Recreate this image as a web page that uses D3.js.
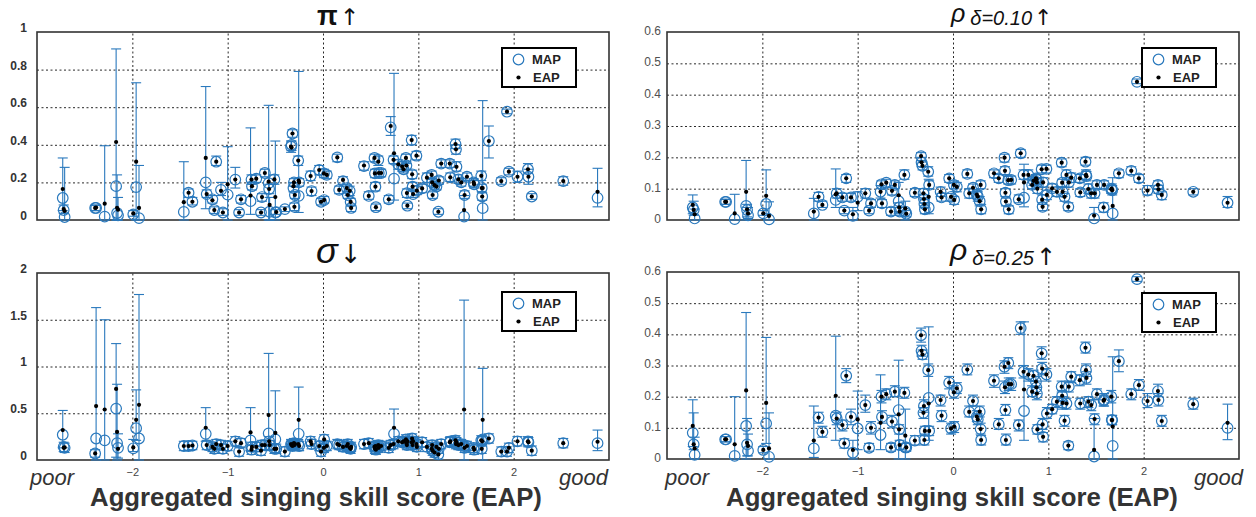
<!DOCTYPE html>
<html><head><meta charset="utf-8">
<script src="https://cdn.jsdelivr.net/npm/d3@7"></script>
<style>body{margin:0;background:#fff;} svg{display:block;font-family:"Liberation Sans",Arial,sans-serif;}</style>
</head><body><svg id="c" width="1256" height="517"></svg>
<script>
// Aggregated singing skill score (EAP) per singer
const skill = [-2.73,-2.72,-2.71,-2.39,-2.38,-2.29,-2.17,-2.16,-2.15,-1.99,
-1.96,-1.93,-1.46,-1.41,-1.37,-1.23,-1.22,-1.16,-1.14,-1.12,
-1.07,-1.05,-1.0,-0.92,-0.88,-0.86,-0.76,-0.75,-0.745,-0.70,
-0.65,-0.64,-0.61,-0.57,-0.565,-0.56,-0.51,-0.50,-0.49,-0.40,
-0.335,-0.33,-0.32,-0.31,-0.305,-0.30,-0.295,-0.26,-0.255,-0.25,
-0.13,-0.12,-0.04,-0.02,0.01,0.012,0.04,0.15,0.17,0.21,
0.25,0.26,0.28,0.29,0.295,0.43,0.48,0.54,0.545,0.55,
0.555,0.58,0.585,0.61,0.69,0.71,0.74,0.745,0.79,0.83,
0.845,0.87,0.875,0.88,0.885,0.93,0.935,0.94,0.945,0.98,
0.985,1.04,1.09,1.14,1.145,1.15,1.17,1.19,1.21,1.215,
1.24,1.33,1.335,1.39,1.395,1.40,1.42,1.45,1.48,1.485,
1.51,1.58,1.585,1.66,1.665,1.67,1.675,1.74,1.87,1.93,
1.95,2.04,2.15,2.155,2.19,2.52,2.88];

// rows: [MAP, EAP, interval low, interval high]
const piRows = [
[.117,.165,.05,.33],[.053,.058,.035,.08],[.016,.048,0,.28],[.064,.064,.05,.078],[.064,.066,.05,.08],[.018,.087,0,.395],[.18,.415,0,.91],[.037,.065,0,.24],[.025,.055,0,.12],[.03,.035,.02,.05],
[.175,.31,0,.73],[.01,.064,0,.29],[.043,.095,0,.31],[.145,.145,.12,.165],[.097,.097,.08,.12],[.2,.33,.06,.71],[.138,.138,.12,.16],[.11,.105,.09,.13],[.053,.053,.035,.07],[.31,.31,.29,.34],
[.16,.155,.13,.2],[.04,.04,.025,.06],[.135,.19,0,.39],[.215,.215,.17,.28],[.04,.04,.025,.055],[.11,.11,.09,.13],[.1,.13,.03,.49],[.215,.215,.19,.24],[.18,.18,.16,.2],[.22,.22,.2,.24],
[.04,.04,.025,.055],[.122,.122,.1,.14],[.25,.25,.23,.27],[.196,.204,0,.61],[.165,.165,.14,.19],[.044,.08,0,.12],[.216,.216,.19,.24],[.04,.122,0,.42],[.042,.042,.03,.055],[.058,.058,.045,.07],
[.39,.39,.36,.42],[.4,.385,.37,.42],[.46,.46,.44,.48],[.17,.18,.15,.2],[.2,.2,.18,.22],[.07,.07,.05,.09],[.133,.133,.115,.15],[.316,.316,.29,.34],[.128,.21,.04,.79],[.2,.2,.18,.22],
[.234,.234,.21,.26],[.154,.154,.13,.175],[.266,.266,.24,.29],[.097,.097,.08,.115],[.248,.248,.225,.27],[.106,.106,.09,.125],[.24,.24,.22,.26],[.333,.333,.31,.35],[.16,.16,.14,.18],[.207,.213,.19,.23],
[.17,.17,.15,.19],[.133,.133,.115,.15],[.155,.155,.13,.18],[.096,.096,.075,.115],[.064,.064,.045,.08],[.287,.29,.265,.31],[.128,.128,.11,.15],[.33,.33,.31,.35],[.248,.248,.225,.27],[.177,.177,.155,.2],
[.068,.068,.05,.085],[.32,.31,.29,.34],[.25,.25,.23,.27],[.25,.25,.23,.27],[.11,.11,.09,.13],[.493,.5,.45,.55],[.32,.32,.3,.34],[.22,.355,.106,.78],[.296,.296,.27,.32],[.284,.284,.26,.31],
[.27,.27,.25,.29],[.33,.33,.3,.35],[.29,.29,.27,.31],[.143,.143,.12,.165],[.076,.076,.06,.09],[.425,.425,.4,.45],[.243,.243,.22,.265],[.177,.177,.155,.2],[.138,.138,.12,.16],[.342,.342,.32,.365],
[.156,.156,.135,.18],[.168,.168,.145,.19],[.225,.225,.2,.25],[.24,.24,.22,.26],[.2,.2,.18,.22],[.133,.133,.115,.15],[.185,.185,.165,.205],[.178,.178,.16,.2],[.044,.044,.03,.06],[.21,.21,.19,.23],
[.3,.3,.28,.32],[.3,.3,.28,.32],[.227,.227,.205,.25],[.404,.404,.38,.43],[.376,.376,.35,.4],[.283,.283,.26,.31],[.216,.216,.195,.24],[.2,.2,.18,.22],[.018,.053,0,.13],[.133,.133,.115,.155],
[.23,.23,.21,.25],[.2,.2,.18,.22],[.19,.19,.17,.21],[.235,.235,.21,.26],[.17,.17,.15,.19],[.125,.125,.105,.145],[.063,.17,0,.635],[.42,.42,.33,.5],[.207,.207,.19,.225],[.576,.576,.565,.59],
[.257,.257,.24,.275],[.23,.23,.2,.26],[.27,.27,.25,.3],[.23,.23,.19,.27],[.125,.125,.11,.14],[.207,.207,.185,.23],[.118,.15,.07,.275]];

const sigmaRows = [
[.27,.32,.13,.53],[.14,.13,.09,.19],[.13,.135,.08,.18],[.07,.07,.03,.11],[.23,.577,0,1.63],[.21,.54,0,1.5],[.55,.76,.03,1.245],[.18,.3,0,.81],[.13,.12,.02,.28],[.125,.135,.09,.22],
[.34,.43,.21,.75],[.23,.59,0,1.77],[.15,.15,.1,.2],[.15,.15,.1,.2],[.155,.155,.11,.2],[.28,.345,.2,.56],[.16,.16,.11,.21],[.14,.14,.09,.19],[.12,.12,.07,.17],[.17,.17,.12,.22],
[.16,.16,.11,.21],[.12,.12,.07,.17],[.15,.15,.1,.2],[.2,.2,.15,.25],[.09,.09,.04,.14],[.18,.18,.13,.23],[.21,.295,.1,.56],[.11,.11,.06,.16],[.14,.14,.09,.19],[.14,.14,.09,.19],
[.1,.1,.05,.15],[.16,.16,.11,.21],[.16,.16,.11,.21],[.285,.48,.1,1.14],[.2,.2,.15,.25],[.16,.16,.11,.21],[.12,.12,.07,.17],[.22,.29,.08,.74],[.12,.12,.07,.17],[.09,.09,.04,.14],
[.17,.17,.12,.22],[.16,.16,.11,.21],[.15,.15,.1,.2],[.16,.16,.11,.21],[.18,.18,.13,.23],[.16,.16,.11,.21],[.17,.17,.12,.22],[.17,.17,.12,.22],[.28,.43,.1,.78],[.15,.15,.1,.2],
[.2,.2,.15,.25],[.17,.17,.12,.22],[.15,.15,.1,.2],[.09,.09,.04,.14],[.13,.13,.08,.18],[.22,.22,.17,.27],[.15,.15,.1,.2],[.17,.17,.12,.22],[.16,.16,.11,.21],[.14,.14,.09,.19],
[.15,.15,.1,.2],[.17,.17,.12,.22],[.13,.13,.08,.18],[.12,.12,.07,.17],[.14,.14,.09,.19],[.17,.17,.12,.22],[.18,.18,.13,.23],[.14,.14,.09,.19],[.12,.12,.07,.17],[.15,.15,.1,.2],
[.11,.11,.06,.16],[.16,.16,.11,.21],[.13,.13,.08,.18],[.15,.15,.1,.2],[.13,.13,.08,.18],[.16,.16,.11,.21],[.17,.17,.12,.22],[.28,.345,.15,.545],[.2,.2,.15,.25],[.19,.19,.14,.24],
[.2,.2,.15,.25],[.22,.22,.17,.27],[.18,.18,.13,.23],[.16,.16,.11,.21],[.2,.2,.15,.25],[.19,.19,.14,.24],[.23,.23,.18,.28],[.16,.16,.11,.21],[.2,.2,.15,.25],[.17,.17,.12,.22],
[.14,.14,.09,.19],[.19,.19,.14,.24],[.14,.14,.09,.19],[.12,.12,.07,.17],[.16,.16,.11,.21],[.1,.1,.05,.15],[.08,.08,.03,.13],[.14,.14,.09,.19],[.06,.06,.01,.11],[.12,.12,.07,.17],
[.17,.17,.12,.22],[.19,.19,.14,.24],[.2,.2,.15,.25],[.21,.21,.16,.26],[.17,.17,.12,.22],[.19,.19,.14,.24],[.16,.16,.11,.21],[.17,.17,.12,.22],[.15,.54,0,1.71],[.13,.13,.08,.18],
[.15,.15,.1,.2],[.13,.13,.08,.18],[.11,.11,.06,.16],[.21,.21,.16,.26],[.12,.12,.07,.17],[.2,.2,.15,.25],[.22,.43,0,.98],[.23,.23,.18,.28],[.09,.09,.04,.14],[.09,.09,.04,.14],
[.13,.13,.08,.18],[.2,.2,.15,.25],[.2,.2,.15,.25],[.19,.19,.14,.24],[.1,.1,.05,.15],[.18,.18,.13,.23],[.18,.195,.1,.32]];

const p10Rows = [
[.04,.048,.02,.08],[.032,.032,.015,.06],[.005,.018,0,.035],[.058,.058,.05,.066],[.058,.058,.05,.066],[.003,.021,0,.082],[.045,.09,0,.19],[.032,.034,.01,.05],[.015,.021,.005,.04],[.021,.021,.015,.03],
[.051,.077,.02,.16],[.002,.013,0,.058],[.021,.027,0,.069],[.074,.074,.06,.088],[.048,.048,.04,.06],[.064,.082,.04,.163],[.085,.085,.07,.1],[.072,.072,.06,.085],[.03,.03,.02,.04],[.133,.133,.12,.145],
[.072,.072,.06,.085],[.013,.018,0,.04],[.074,.055,.03,.09],[.085,.085,.07,.1],[.03,.03,.02,.04],[.053,.053,.04,.065],[.09,.09,.07,.11],[.114,.114,.1,.125],[.053,.053,.04,.065],[.119,.119,.105,.13],
[.027,.027,.015,.04],[.093,.093,.08,.105],[.112,.112,.1,.125],[.06,.079,.02,.12],[.04,.04,.025,.055],[.027,.027,.015,.04],[.144,.144,.13,.16],[.027,.037,0,.06],[.02,.02,.01,.03],[.087,.087,.075,.1],
[.204,.204,.19,.215],[.184,.184,.17,.2],[.173,.173,.16,.185],[.085,.085,.07,.1],[.067,.067,.055,.08],[.051,.051,.04,.065],[.034,.034,.02,.045],[.154,.154,.14,.17],[.04,.074,.02,.13],[.112,.112,.1,.125],
[.09,.09,.075,.105],[.072,.072,.06,.085],[.133,.133,.12,.145],[.074,.074,.06,.085],[.112,.112,.1,.125],[.064,.064,.05,.075],[.106,.106,.09,.12],[.147,.147,.135,.16],[.085,.085,.07,.1],[.103,.103,.09,.115],
[.081,.081,.07,.095],[.075,.075,.06,.09],[.06,.06,.045,.075],[.112,.112,.1,.125],[.034,.034,.02,.05],[.149,.149,.135,.16],[.133,.133,.12,.145],[.199,.199,.185,.21],[.157,.157,.145,.17],[.087,.087,.075,.1],
[.059,.059,.045,.07],[.127,.127,.115,.14],[.034,.034,.02,.045],[.128,.128,.115,.14],[.066,.066,.055,.08],[.213,.213,.2,.225],[.144,.144,.13,.16],[.071,.12,.042,.178],[.144,.144,.13,.16],[.112,.112,.1,.125],
[.125,.125,.11,.14],[.133,.133,.12,.145],[.13,.13,.115,.145],[.12,.12,.105,.135],[.1,.1,.085,.115],[.162,.162,.15,.175],[.065,.065,.05,.08],[.042,.042,.03,.055],[.12,.12,.105,.135],[.163,.163,.15,.175],
[.08,.08,.065,.095],[.101,.101,.09,.115],[.09,.09,.075,.105],[.183,.183,.17,.195],[.119,.119,.105,.13],[.09,.09,.075,.105],[.074,.074,.06,.085],[.144,.144,.13,.16],[.042,.042,.03,.055],[.12,.12,.105,.135],
[.135,.135,.12,.15],[.133,.133,.12,.145],[.088,.088,.075,.1],[.186,.186,.175,.2],[.144,.144,.13,.16],[.14,.14,.125,.155],[.099,.099,.085,.115],[.085,.085,.07,.1],[.005,.014,0,.04],[.085,.085,.07,.1],
[.112,.112,.1,.125],[.04,.04,.025,.055],[.112,.112,.1,.125],[.098,.098,.085,.11],[.1,.1,.085,.115],[.095,.095,.08,.11],[.021,.045,0,.135],[.149,.149,.135,.16],[.157,.157,.145,.17],[.441,.441,.435,.45],
[.133,.133,.12,.145],[.094,.094,.08,.11],[.112,.112,.1,.125],[.098,.098,.085,.11],[.08,.08,.065,.09],[.09,.09,.08,.1],[.055,.055,.04,.075]];

const p25Rows = [
[.084,.106,.04,.19],[.047,.047,.03,.148],[.013,.034,0,.07],[.063,.063,.055,.072],[.063,.063,.055,.072],[.01,.047,0,.2],[.106,.22,0,.47],[.047,.052,.01,.13],[.026,.042,.01,.08],[.029,.029,.02,.04],
[.114,.18,.05,.39],[.007,.034,0,.148],[.034,.059,.005,.17],[.133,.133,.115,.15],[.087,.087,.07,.105],[.139,.203,.06,.394],[.13,.13,.11,.15],[.109,.109,.09,.125],[.05,.05,.035,.065],[.267,.267,.245,.29],
[.135,.135,.11,.16],[.02,.029,0,.06],[.098,.127,.03,.218],[.173,.173,.15,.205],[.036,.036,.025,.05],[.1,.1,.08,.12],[.077,.116,.03,.27],[.2,.2,.18,.22],[.135,.135,.115,.155],[.208,.208,.19,.225],
[.037,.037,.025,.05],[.12,.12,.1,.14],[.216,.216,.2,.235],[.157,.143,0,.317],[.095,.095,.08,.11],[.045,.045,.03,.06],[.212,.212,.195,.23],[.037,.075,0,.16],[.037,.037,.025,.05],[.059,.059,.045,.075],
[.397,.397,.375,.42],[.347,.347,.33,.365],[.335,.335,.32,.35],[.148,.148,.13,.165],[.17,.17,.15,.19],[.061,.061,.045,.08],[.09,.09,.075,.105],[.285,.285,.265,.305],[.196,.178,.06,.424],[.09,.09,.075,.105],
[.189,.189,.17,.205],[.139,.139,.12,.155],[.245,.245,.225,.265],[.098,.098,.08,.115],[.214,.214,.195,.235],[.104,.104,.085,.12],[.227,.227,.21,.245],[.287,.287,.27,.305],[.151,.151,.135,.17],[.186,.186,.17,.205],
[.136,.136,.12,.155],[.127,.127,.11,.145],[.152,.152,.135,.17],[.096,.096,.08,.115],[.061,.061,.045,.075],[.251,.251,.23,.27],[.111,.111,.095,.13],[.296,.296,.275,.315],[.23,.23,.21,.25],[.157,.157,.14,.175],
[.061,.061,.045,.08],[.308,.308,.29,.325],[.24,.24,.22,.26],[.24,.24,.22,.26],[.109,.109,.09,.125],[.42,.42,.4,.44],[.28,.28,.26,.3],[.154,.223,.06,.44],[.271,.271,.25,.29],[.216,.216,.2,.235],
[.267,.267,.25,.285],[.248,.248,.23,.265],[.23,.23,.21,.25],[.21,.21,.19,.23],[.095,.095,.08,.11],[.339,.339,.32,.36],[.29,.29,.27,.31],[.111,.111,.095,.13],[.071,.071,.055,.085],[.271,.271,.25,.29],
[.146,.146,.13,.165],[.16,.16,.145,.175],[.184,.184,.165,.2],[.232,.232,.215,.25],[.203,.203,.185,.22],[.18,.18,.16,.2],[.123,.123,.105,.14],[.178,.178,.16,.195],[.043,.043,.03,.055],[.232,.232,.215,.25],
[.264,.264,.245,.28],[.253,.253,.235,.27],[.178,.178,.16,.195],[.357,.357,.34,.375],[.285,.285,.265,.305],[.26,.26,.24,.28],[.184,.184,.165,.2],[.173,.173,.155,.19],[.008,.029,0,.13],[.128,.128,.11,.145],
[.208,.208,.19,.225],[.187,.187,.17,.205],[.19,.19,.17,.21],[.2,.2,.18,.22],[.125,.125,.11,.14],[.125,.125,.11,.14],[.042,.104,0,.328],[.314,.314,.28,.35],[.208,.208,.19,.225],[.577,.577,.57,.585],
[.237,.237,.22,.255],[.186,.186,.165,.21],[.218,.218,.2,.24],[.189,.189,.17,.21],[.122,.122,.105,.14],[.176,.176,.16,.195],[.1,.116,.062,.176]];

const xTicks = [-2,-1,0,1,2];
const xTickLabels = ["\u22122","\u22121","0","1","2"];
const piTicks = [0,0.2,0.4,0.6,0.8,1];
const piTickLabels = ["0","0.2","0.4","0.6","0.8","1"];
const sigmaTicks = [0,0.5,1,1.5,2];
const sigmaTickLabels = ["0","0.5","1","1.5","2"];
const pTicks = [0,0.1,0.2,0.3,0.4,0.5,0.6];
const pTickLabels = ["0","0.1","0.2","0.3","0.4","0.5","0.6"];
const legendLabels = ["MAP","EAP"];
const axisTitle = "Aggregated singing skill score (EAP)";

const BLUE = "#2a79bd";
const svg = d3.select("#c");

const panels = [
 {rows:piRows, ticks:piTicks, labels:piTickLabels, dom:[0,1], x0:37, x1:609, y0:32, y1:220, bold:true, leg:[502,48], xlab:false},
 {rows:sigmaRows, ticks:sigmaTicks, labels:sigmaTickLabels, dom:[0,2], x0:37, x1:609, y0:273, y1:460, bold:true, leg:[502,292], xlab:true},
 {rows:p10Rows, ticks:pTicks, labels:pTickLabels, dom:[0,0.6], x0:667, x1:1239, y0:32, y1:220, bold:false, leg:[1142,48], xlab:false},
 {rows:p25Rows, ticks:pTicks, labels:pTickLabels, dom:[0,0.6], x0:667, x1:1239, y0:272, y1:459, bold:false, leg:[1142,293], xlab:true}
];

panels.forEach(p => {
  const x = d3.scaleLinear().domain([-3,3]).range([p.x0,p.x1]);
  const y = d3.scaleLinear().domain(p.dom).range([p.y1,p.y0]);
  const g = svg.append("g");
  const w = p.x1-p.x0, h = p.y1-p.y0;
  // vertical grid
  g.append("g").attr("transform",`translate(0,${p.y1})`)
    .call(d3.axisBottom(x).tickValues(xTicks).tickSize(-h).tickFormat(""))
    .call(s=>{s.select(".domain").remove(); s.selectAll("line").attr("stroke","#111").attr("stroke-width",0.9).attr("stroke-dasharray","2,2.5");});
  // horizontal grid
  g.append("g").attr("transform",`translate(${p.x0},0)`)
    .call(d3.axisLeft(y).tickValues(p.ticks.filter(t=>t>p.dom[0]&&t<p.dom[1])).tickSize(-w).tickFormat(""))
    .call(s=>{s.select(".domain").remove(); s.selectAll("line").attr("stroke","#111").attr("stroke-width",0.9).attr("stroke-dasharray","2,2.5");});
  // y labels
  g.append("g").attr("transform",`translate(${p.x0},0)`)
    .call(d3.axisLeft(y).tickValues(p.ticks).tickSize(0).tickPadding(p.bold?10:6).tickFormat((d,i)=>p.labels[i]))
    .call(s=>{s.select(".domain").remove(); s.selectAll("text").attr("font-size",12).attr("font-weight",p.bold?"bold":"normal")
      .attr("fill",p.bold?"#333":"#505050").attr("font-family","'Liberation Sans',Arial,sans-serif").attr("dy", p.bold?"-0.05em":"0.2em");});
  if (p.xlab) {
    g.append("g").attr("transform",`translate(0,${p.y1})`)
      .call(d3.axisBottom(x).tickValues(xTicks).tickSize(0).tickPadding(8).tickFormat((d,i)=>xTickLabels[i]))
      .call(s=>{s.select(".domain").remove(); s.selectAll("text").attr("font-size",11).attr("fill","#444").attr("font-family","'Liberation Sans',Arial,sans-serif");});
  }
  // frame
  g.append("rect").attr("x",p.x0).attr("y",p.y0).attr("width",w).attr("height",h)
    .attr("fill","none").attr("stroke","#333").attr("stroke-width",1.6);

  const data = p.rows.map((r,i)=>({x:skill[i], m:r[0], e:r[1], lo:r[2], hi:r[3]}));
  const eb = g.append("g").attr("stroke",BLUE).attr("stroke-width",1.1).attr("fill","none");
  eb.selectAll(".v").data(data).join("line")
    .attr("x1",d=>x(d.x)).attr("x2",d=>x(d.x)).attr("y1",d=>y(d.lo)).attr("y2",d=>y(d.hi));
  eb.selectAll(".ct").data(data).join("line").attr("class","ct")
    .attr("x1",d=>x(d.x)-5).attr("x2",d=>x(d.x)+5).attr("y1",d=>y(d.hi)).attr("y2",d=>y(d.hi));
  eb.selectAll(".cb").data(data).join("line").attr("class","cb")
    .attr("x1",d=>x(d.x)-5).attr("x2",d=>x(d.x)+5).attr("y1",d=>y(d.lo)).attr("y2",d=>y(d.lo));
  g.append("g").selectAll("circle").data(data).join("circle")
    .attr("cx",d=>x(d.x)).attr("cy",d=>y(d.m)).attr("r",5.3)
    .attr("fill","none").attr("stroke",BLUE).attr("stroke-width",1.2);
  g.append("g").selectAll("circle").data(data).join("circle")
    .attr("cx",d=>x(d.x)).attr("cy",d=>y(d.e)).attr("r",2.1).attr("fill","#000");

  // legend
  const [lx,ly] = p.leg;
  const lg = g.append("g").attr("transform",`translate(${lx},${ly})`);
  lg.append("rect").attr("width",74).attr("height",39).attr("fill","#fff").attr("stroke","#000").attr("stroke-width",2);
  lg.append("circle").attr("cx",16.5).attr("cy",11.5).attr("r",5.3).attr("fill","none").attr("stroke",BLUE).attr("stroke-width",1.2);
  lg.append("circle").attr("cx",16.5).attr("cy",29.5).attr("r",2.1).attr("fill","#000");
  lg.append("text").attr("x",30).attr("y",16).attr("font-size",13).attr("font-weight","bold").attr("fill","#222").text(legendLabels[0]);
  lg.append("text").attr("x",31).attr("y",34).attr("font-size",13).attr("font-weight","bold").attr("fill","#222").text(legendLabels[1]);
});

// titles
function title(cfg) {
  const t = svg.append("text").attr("x",cfg.x).attr("y",cfg.y).attr("fill","#111");
  t.append("tspan").attr("font-size",cfg.size).attr("font-style",cfg.italic?"italic":"normal")
    .attr("font-family","'Liberation Sans',Arial,sans-serif")
    .attr("font-weight", cfg.bold? "bold":"normal").text(cfg.main);
  if (cfg.sub) t.append("tspan").attr("dx",5).attr("dy",cfg.subDy).attr("font-size",cfg.subSize).attr("font-style","italic").text(cfg.sub);
  t.append("tspan").attr("dx",2).attr("dy", cfg.sub?0:0).attr("font-size",cfg.arrowSize).attr("font-family","'DejaVu Sans',sans-serif").text(cfg.arrow);
}
title({x:317, y:25, main:"\u03c0", arrow:"\u2191", italic:false, bold:true, size:27, arrowSize:23});
title({x:316, y:263, main:"\u03c3", arrow:"\u2193", italic:true, bold:false, size:36, arrowSize:26});
title({x:951, y:22, main:"\u03c1", sub:"\u03b4=0.10", subDy:3, subSize:20, arrow:"\u2191", italic:true, bold:false, size:25, arrowSize:22});
title({x:950, y:260, main:"\u03c1", sub:"\u03b4=0.25", subDy:5, subSize:20, arrow:"\u2191", italic:true, bold:false, size:30, arrowSize:24});

// poor / good and axis titles
[[30,485,"start","poor"],[608,485,"end","good"],[665,485,"start","poor"],[1243,485,"end","good"]].forEach(a=>{
  svg.append("text").attr("x",a[0]).attr("y",a[1]).attr("text-anchor",a[2]).attr("font-size",22)
    .attr("font-style","italic").attr("fill","#333").text(a[3]);
});
[[316],[952]].forEach(a=>{
  const t = svg.append("text").attr("x",a[0]).attr("y",506).attr("text-anchor","middle")
    .attr("font-size",24).attr("font-weight","bold").attr("fill","#333").text(axisTitle);
  const len = t.node().getComputedTextLength();
  t.attr("font-size", 24*452/len);
});
</script></body></html>
